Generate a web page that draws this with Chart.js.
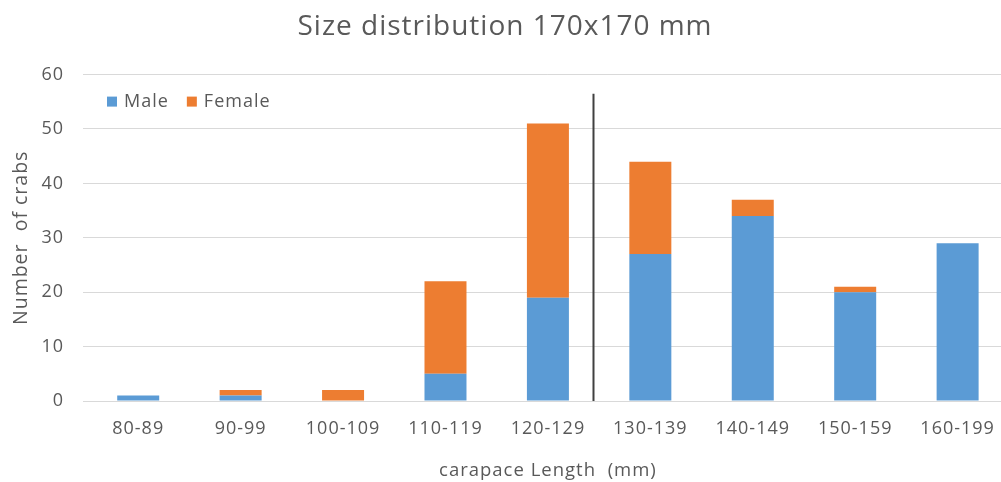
<!DOCTYPE html>
<html>
<head>
<meta charset="utf-8">
<script src="https://cdn.jsdelivr.net/npm/chart.js@4/dist/chart.umd.min.js"></script>
<style>
  html, body { margin: 0; padding: 0; background: #ffffff; overflow: hidden; }
  #wrap { width: 1012px; height: 482px; position: relative; }
</style>
</head>
<body>
<div id="wrap"><canvas id="chart"></canvas></div>
<script>
// Carapace length classes (mm)
const categories = ['80-89', '90-99', '100-109', '110-119', '120-129', '130-139', '140-149', '150-159', '160-199'];
// Number of crabs per class
const maleCounts = [1, 1, 0, 5, 19, 27, 34, 20, 29];
const femaleCounts = [0, 1, 2, 17, 32, 17, 3, 1, 0];
// Y axis range and step
const yMin = 0;
const yMax = 60;
const yStep = 10;
// Separator between the 120-129 and 130-139 classes (category units / crab count)
const dividerAt = 4.445;
const dividerTop = 56.5;

const textColor = '#595959';
const gridColor = '#d9d9d9';
const fontFamily = '"Open Sans", sans-serif';
const labelFont = { family: fontFamily, size: 18 };

// Slightly open letter spacing for every label on the canvas
const spacingPlugin = {
  id: 'spacing',
  beforeUpdate(chart) { chart.ctx.letterSpacing = '1px'; },
  beforeLayout(chart) { chart.ctx.letterSpacing = '1px'; },
  beforeDraw(chart) { chart.ctx.letterSpacing = '1px'; }
};

const dividerPlugin = {
  id: 'divider',
  afterDatasetsDraw(chart) {
    const x = chart.scales.x;
    const y = chart.scales.y;
    const i = Math.floor(dividerAt);
    const px = x.getPixelForValue(i) + (dividerAt - i) * (x.getPixelForValue(i + 1) - x.getPixelForValue(i));
    const ctx = chart.ctx;
    ctx.save();
    ctx.strokeStyle = '#404040';
    ctx.lineWidth = 2;
    ctx.beginPath();
    ctx.moveTo(px, y.getPixelForValue(yMin));
    ctx.lineTo(px, y.getPixelForValue(dividerTop));
    ctx.stroke();
    ctx.restore();
  }
};

// Legend drawn inside the top-left corner of the plot area
const innerLegendPlugin = {
  id: 'innerLegend',
  afterDraw(chart) {
    const ctx = chart.ctx;
    const area = chart.chartArea;
    let x = area.left + 20;
    const cy = area.top + 27;
    ctx.save();
    ctx.letterSpacing = '1px';
    ctx.font = `${labelFont.size}px ${fontFamily}`;
    ctx.textBaseline = 'middle';
    ctx.textAlign = 'left';
    chart.data.datasets.forEach(ds => {
      ctx.fillStyle = ds.backgroundColor;
      ctx.fillRect(x, cy - 5, 10, 10);
      x += 17;
      ctx.fillStyle = textColor;
      ctx.fillText(ds.label, x, cy);
      x += ctx.measureText(ds.label).width + 18;
    });
    ctx.restore();
  }
};

new Chart(document.getElementById('chart'), {
  type: 'bar',
  data: {
    labels: categories,
    datasets: [
      { label: 'Male', data: maleCounts, backgroundColor: '#5b9bd5', barPercentage: 0.41, categoryPercentage: 1 },
      { label: 'Female', data: femaleCounts, backgroundColor: '#ed7d31', barPercentage: 0.41, categoryPercentage: 1 }
    ]
  },
  options: {
    responsive: true,
    maintainAspectRatio: false,
    animation: false,
    layout: { padding: { left: 0, right: 2, top: 0, bottom: 0 } },
    plugins: {
      title: {
        display: true,
        text: 'Size distribution 170x170 mm',
        color: textColor,
        font: { family: fontFamily, size: 28, weight: 'normal' },
        padding: { top: 10, bottom: 31 }
      },
      legend: { display: false },
      tooltip: { enabled: false }
    },
    scales: {
      x: {
        stacked: true,
        grid: { display: false, drawTicks: false },
        border: { display: true, color: gridColor, width: 1 },
        ticks: { color: textColor, font: labelFont, padding: 17, maxRotation: 0 },
        title: {
          display: true,
          text: 'carapace Length  (mm)',
          color: textColor,
          font: { family: fontFamily, size: 18.5 },
          padding: { top: 7, bottom: 0 }
        },
        afterFit(scale) { scale.height = 81; }
      },
      y: {
        stacked: true,
        min: yMin,
        max: yMax,
        ticks: { stepSize: yStep, color: textColor, font: labelFont, padding: 19 },
        grid: { color: gridColor, lineWidth: 1, drawTicks: true, tickLength: 4, tickColor: gridColor },
        border: { display: false },
        title: {
          display: true,
          text: 'Number  of crabs',
          color: textColor,
          font: { family: fontFamily, size: 19.5 },
          padding: { top: 10, bottom: 4 }
        },
        afterFit(scale) { scale.width = 87; }
      }
    }
  },
  plugins: [spacingPlugin, dividerPlugin, innerLegendPlugin]
});
</script>
</body>
</html>
